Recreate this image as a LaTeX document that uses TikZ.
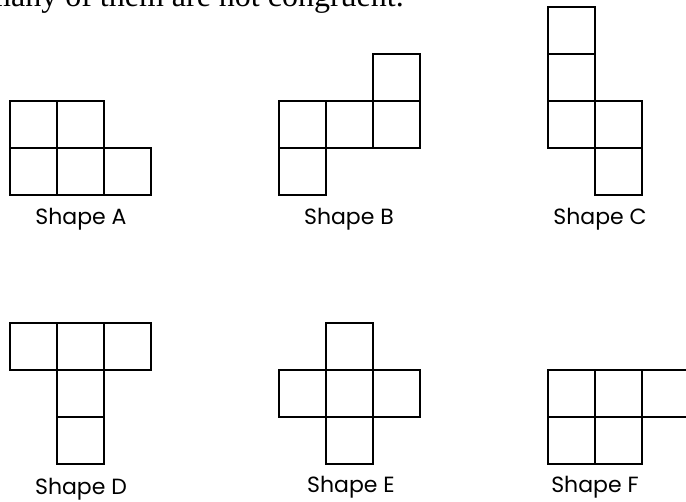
\documentclass[tikz,border=0pt]{standalone}
\usepackage{fontspec}
\setmainfont{Liberation Serif}
\newfontfamily\gothic{Poppins}
\tikzset{
  cell/.style={draw,line width=1.7pt},
  shapename/.style={font=\gothic\fontsize{22}{26}\selectfont,inner sep=0pt},
  heading/.style={font=\fontsize{32}{36}\selectfont}
}
\begin{document}
\begin{tikzpicture}[x=1pt,y=-1pt]
% Page is 686 x 502, y runs downwards; the heading is cut off at the top
\clip (0,0) rectangle (686,502);
\node[heading,anchor=base east,inner sep=0pt] (head) at (404,7) {many of them are not congruent.};
% each shape is a set of unit squares, side 47
% Shape A
\foreach \x/\y in {10/101,57/101,10/148,57/148,104/148}
  \draw[cell] (\x,\y) rectangle ++(47,47);
\node[shapename] (A) at (81,219) {Shape A};
% Shape B
\foreach \x/\y in {373/54,279/101,326/101,373/101,279/148}
  \draw[cell] (\x,\y) rectangle ++(47,47);
\node[shapename] (B) at (349,219) {Shape B};
% Shape C
\foreach \x/\y in {548/7,548/54,548/101,595/101,595/148}
  \draw[cell] (\x,\y) rectangle ++(47,47);
\node[shapename] (C) at (600,219) {Shape C};
% Shape D
\foreach \x/\y in {10/323,57/323,104/323,57/370,57/417}
  \draw[cell] (\x,\y) rectangle ++(47,47);
\node[shapename] (D) at (81,489) {Shape D};
% Shape E
\foreach \x/\y in {326/323,279/370,326/370,373/370,326/417}
  \draw[cell] (\x,\y) rectangle ++(47,47);
\node[shapename] (E) at (351,487) {Shape E};
% Shape F, its last square runs off the page
\foreach \x/\y in {548/370,595/370,642/370,548/417,595/417}
  \draw[cell] (\x,\y) rectangle ++(47,47);
\node[shapename] (F) at (595,487) {Shape F};
\end{tikzpicture}
\end{document}
